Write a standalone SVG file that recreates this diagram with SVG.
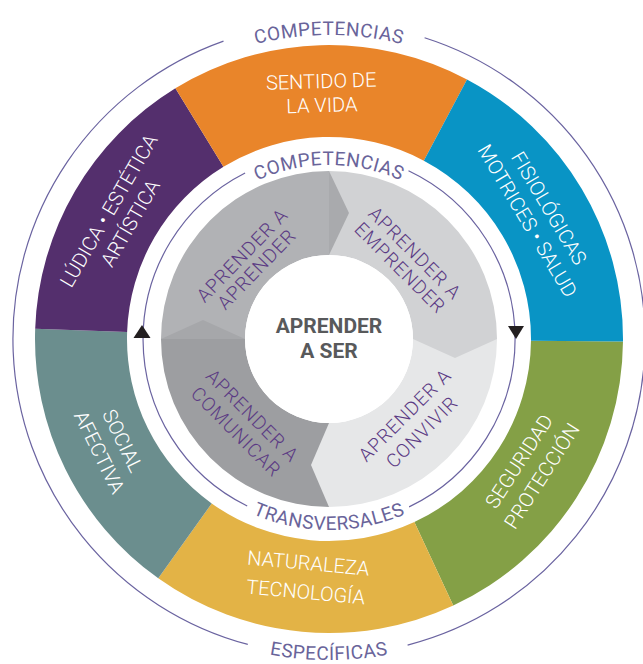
<svg xmlns="http://www.w3.org/2000/svg" width="643" height="664" viewBox="0 0 643 664">
<style>
.seg{stroke:none}
.lab{font-family:Roboto,"Liberation Sans",sans-serif;font-weight:300;font-size:20px;fill:#ffffff;text-anchor:middle}
.in{font-family:Roboto,"Liberation Sans",sans-serif;font-weight:300;font-size:19px;fill:#5b3a84;text-anchor:middle;letter-spacing:1px}
.cap{font-family:Roboto,"Liberation Sans",sans-serif;font-weight:400;font-size:19px;fill:#69649a;letter-spacing:0.5px}
.ctr{font-family:Roboto,"Liberation Sans",sans-serif;font-weight:700;font-size:21px;fill:#58595b;text-anchor:middle}
.ring{fill:none;stroke:#6a63a0;stroke-width:1.2}
.arw{fill:#231f20}
</style>
<defs>
<path id="pOutTop" d="M25,339 A304,304 0 0 1 633,339"/>
<path id="pOutBot" d="M8,339 A321,321 0 0 0 650,339"/>
<path id="pInTop" d="M155,339 A174,174 0 0 1 503,339"/>
<path id="pInBot" d="M138,339 A191,191 0 0 0 520,339"/>
</defs>
<rect width="643" height="664" fill="#ffffff"/>

<g id="connectors">
<path class="ring" d="M424.6,37.8 A316,316 0 0 1 407.6,645.1"/>
<path class="ring" d="M247.8,644.4 A316,316 0 0 1 223.5,41.1"/>
<path class="ring" d="M408.5,170.8 A186,186 0 0 1 409.1,506.9"/>
<path class="ring" d="M247.2,506 A186,186 0 0 1 245.1,173"/>
<polygon class="arw" points="142,325 133.5,338 150.5,338"/>
<polygon class="arw" points="508,326 524,326 516,339"/>
</g>

<g id="label-competencias-outer"><text class="cap"><textPath href="#pOutTop" startOffset="50%" text-anchor="middle">COMPETENCIAS</textPath></text></g>
<g id="label-especificas"><text class="cap"><textPath href="#pOutBot" startOffset="50%" text-anchor="middle">ESPECÍFICAS</textPath></text></g>
<g id="label-competencias-inner"><text class="cap"><textPath href="#pInTop" startOffset="50%" text-anchor="middle">COMPETENCIAS</textPath></text></g>
<g id="label-transversales"><text class="cap"><textPath href="#pInBot" startOffset="50%" text-anchor="middle">TRANSVERSALES</textPath></text></g>

<g id="seg-seguridad">
<path class="seg" fill="#84a046" d="M622.99,341.57 A294,294 0 0 1 453.25,605.45 L414.37,522.07 A202,202 0 0 0 530.99,340.76 Z"/>
<g transform="translate(329 339) rotate(-57.25)"><text class="lab" y="233">SEGURIDAD</text><text class="lab" y="260">PROTECCIÓN</text></g>
</g>
<g id="seg-naturaleza">
<path class="seg" fill="#e3b346" d="M453.25,605.45 A294,294 0 0 1 158.27,578.35 L211.70,503.45 A202,202 0 0 0 414.37,522.07 Z"/>
<g transform="translate(329 339) rotate(5.25)"><text class="lab" y="232">NATURALEZA</text><text class="lab" y="261">TECNOLOGÍA</text></g>
</g>
<g id="seg-social">
<path class="seg" fill="#6b8e8e" d="M158.27,578.35 A294,294 0 0 1 35.18,328.74 L127.12,331.95 A202,202 0 0 0 211.70,503.45 Z"/>
<g transform="translate(329 339) rotate(63.75)"><text class="lab" y="237">SOCIAL</text><text class="lab" y="263">AFECTIVA</text></g>
</g>
<g id="seg-ludica">
<path class="seg" fill="#542f6d" d="M35.18,328.74 A294,294 0 0 1 175.38,88.32 L223.45,166.77 A202,202 0 0 0 127.12,331.95 Z"/>
<g transform="translate(329 339) rotate(-59.75)"><text class="lab" y="-248">LÚDICA • ESTÉTICA</text><text class="lab" y="-223">ARTÍSTICA</text></g>
</g>
<g id="seg-sentido">
<path class="seg" fill="#e9852a" d="M175.38,88.32 A294,294 0 0 1 467.02,79.41 L423.83,160.64 A202,202 0 0 0 223.45,166.77 Z"/>
<g transform="translate(329 339) rotate(-1.75)"><text class="lab" y="-251">SENTIDO DE</text><text class="lab" y="-227">LA VIDA</text></g>
</g>
<g id="seg-fisiologicas">
<path class="seg" fill="#0994c5" d="M467.02,79.41 A294,294 0 0 1 622.99,341.57 L530.99,340.76 A202,202 0 0 0 423.83,160.64 Z"/>
<g transform="translate(329 339) rotate(59.25)"><text class="lab" y="-249">FISIOLÓGICAS</text><text class="lab" y="-224">MOTRICES • SALUD</text></g>
</g>

<g id="aprender-a-aprender">
<path fill="#b1b2b5" d="M161,339 A168,168 0 0 1 329,171 L329,255 A84,84 0 0 0 245,339 Z"/>
</g>
<g id="aprender-a-emprender">
<path fill="#d1d2d4" d="M329,171 A168,168 0 0 1 497,339 L413,339 A84,84 0 0 0 329,255 Z"/>
</g>
<g id="aprender-a-convivir">
<path fill="#e6e7e8" d="M497,339 A168,168 0 0 1 329,507 L329,423 A84,84 0 0 0 413,339 Z"/>
</g>
<g id="aprender-a-comunicar">
<path fill="#9d9ea1" d="M329,507 A168,168 0 0 1 161,339 L245,339 A84,84 0 0 0 329,423 Z"/>
</g>
<g id="tips">
<polygon fill="#a9aaad" points="329,171 349,213 329,255"/>
<polygon fill="#d1d2d4" points="497,339 455,358 413,339"/>
<polygon fill="#e6e7e8" points="329,423 311,465 329,507"/>
<polygon fill="#a6a7aa" points="161,339 203,320 245,339"/>
</g>
<g id="gray-texts">
<g transform="translate(329 339) rotate(-46)"><text class="in" y="-114">APRENDER A</text><text class="in" y="-94">APRENDER</text></g>
<g transform="translate(329 339) rotate(45)"><text class="in" y="-115">APRENDER A</text><text class="in" y="-94">EMPRENDER</text></g>
<g transform="translate(329 339) rotate(-45)"><text class="in" y="114">APRENDER A</text><text class="in" y="138">CONVIVIR</text></g>
<g transform="translate(329 339) rotate(45)"><text class="in" y="115">APRENDER A</text><text class="in" y="138">COMUNICAR</text></g>
</g>

<g id="aprender-a-ser">
<circle cx="329" cy="339" r="84" fill="#ffffff"/>
<text class="ctr" x="329" y="333">APRENDER</text>
<text class="ctr" x="329" y="358">A SER</text>
</g>
</svg>
